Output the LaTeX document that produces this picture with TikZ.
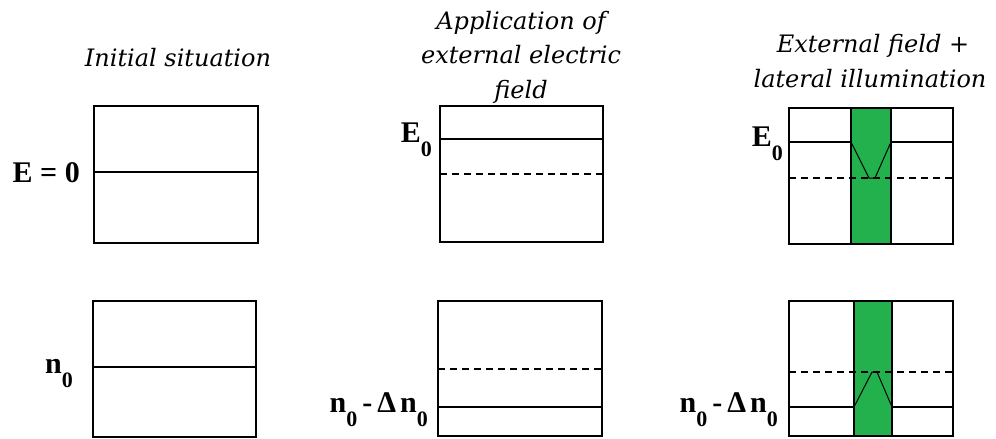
\documentclass[tikz,border=0pt]{standalone}
\usepackage{fontspec}
\setmainfont{Liberation Serif}
\newfontfamily\titlefont{DejaVu Serif}
\definecolor{band}{RGB}{34,177,76}
\newcommand{\lowsub}[1]{\raisebox{-14pt}{\fontsize{22}{22}\selectfont #1}}
\begin{document}
\begin{tikzpicture}[x=1pt,y=-1pt]
\tikzset{
  frame/.style={draw, line width=1.4pt},
  lvl/.style={line width=1.3pt},
  dsh/.style={line width=1.3pt, dash pattern=on 7pt off 5pt},
  vee/.style={line width=1pt},
  title/.style={font=\titlefont\fontsize{24}{30}\selectfont\itshape, anchor=base, inner sep=0pt},
  lab/.style={font=\fontsize{30}{32}\selectfont\bfseries, anchor=base east, inner sep=0pt}
}
\useasboundingbox (0,0) rectangle (996,439);
% titles
\node[title] (t1) at (178,66) {Initial situation};
\node[title] (t2a) at (521,29) {Application of};
\node[title] (t2b) at (521,63.5) {external electric};
\node[title] (t2c) at (521,98) {field};
\node[title] (t3a) at (873,52) {External field +};
\node[title] (t3b) at (870,87) {lateral illumination};
% green bands
\fill[band] (851,108) rectangle (891,244);
\fill[band] (854,301) rectangle (892,436);
% top row
\draw[frame] (94,106) rectangle (258,243);
\draw[lvl] (94,172) -- (258,172);
\node[lab] (l1) at (80,182) {E = 0};

\draw[frame] (440,106) rectangle (603,242);
\draw[lvl] (440,139) -- (603,139);
\draw[dsh] (440,174) -- (603,174);
\node[lab] (l2) at (432,142) {E\lowsub{0}};

\draw[dsh] (789,178) -- (953,178);
\draw[lvl] (789,142) -- (851,142);
\draw[lvl] (891,142) -- (953,142);
\draw[vee] (851,142) -- (869,178) -- (875,178) -- (891,142);
\draw[frame] (789,108) rectangle (953,244);
\draw[frame] (851,108) -- (851,244) (891,108) -- (891,244);
\node[lab] (l3) at (783,146) {E\lowsub{0}};

% bottom row
\draw[frame] (93,301) rectangle (256,437);
\draw[lvl] (93,367) -- (256,367);
\node[lab] (l4) at (73,373) {n\lowsub{0}};

\draw[frame] (438,301) rectangle (602,436);
\draw[dsh] (438,369) -- (602,369);
\draw[lvl] (438,407) -- (602,407);
\node[lab] (l5) at (428,412) {n\lowsub{0}\hspace{5pt}-\hspace{5pt}Δ\hspace{4pt}n\lowsub{0}};

\draw[dsh] (789,372) -- (953,372);
\draw[lvl] (789,407) -- (854,407);
\draw[lvl] (892,407) -- (953,407);
\draw[vee] (854,407) -- (872,372) -- (877,372) -- (892,407);
\draw[frame] (789,301) rectangle (953,436);
\draw[frame] (854,301) -- (854,436) (892,301) -- (892,436);
\node[lab] (l6) at (778,412) {n\lowsub{0}\hspace{5pt}-\hspace{5pt}Δ\hspace{4pt}n\lowsub{0}};
\end{tikzpicture}
\end{document}
